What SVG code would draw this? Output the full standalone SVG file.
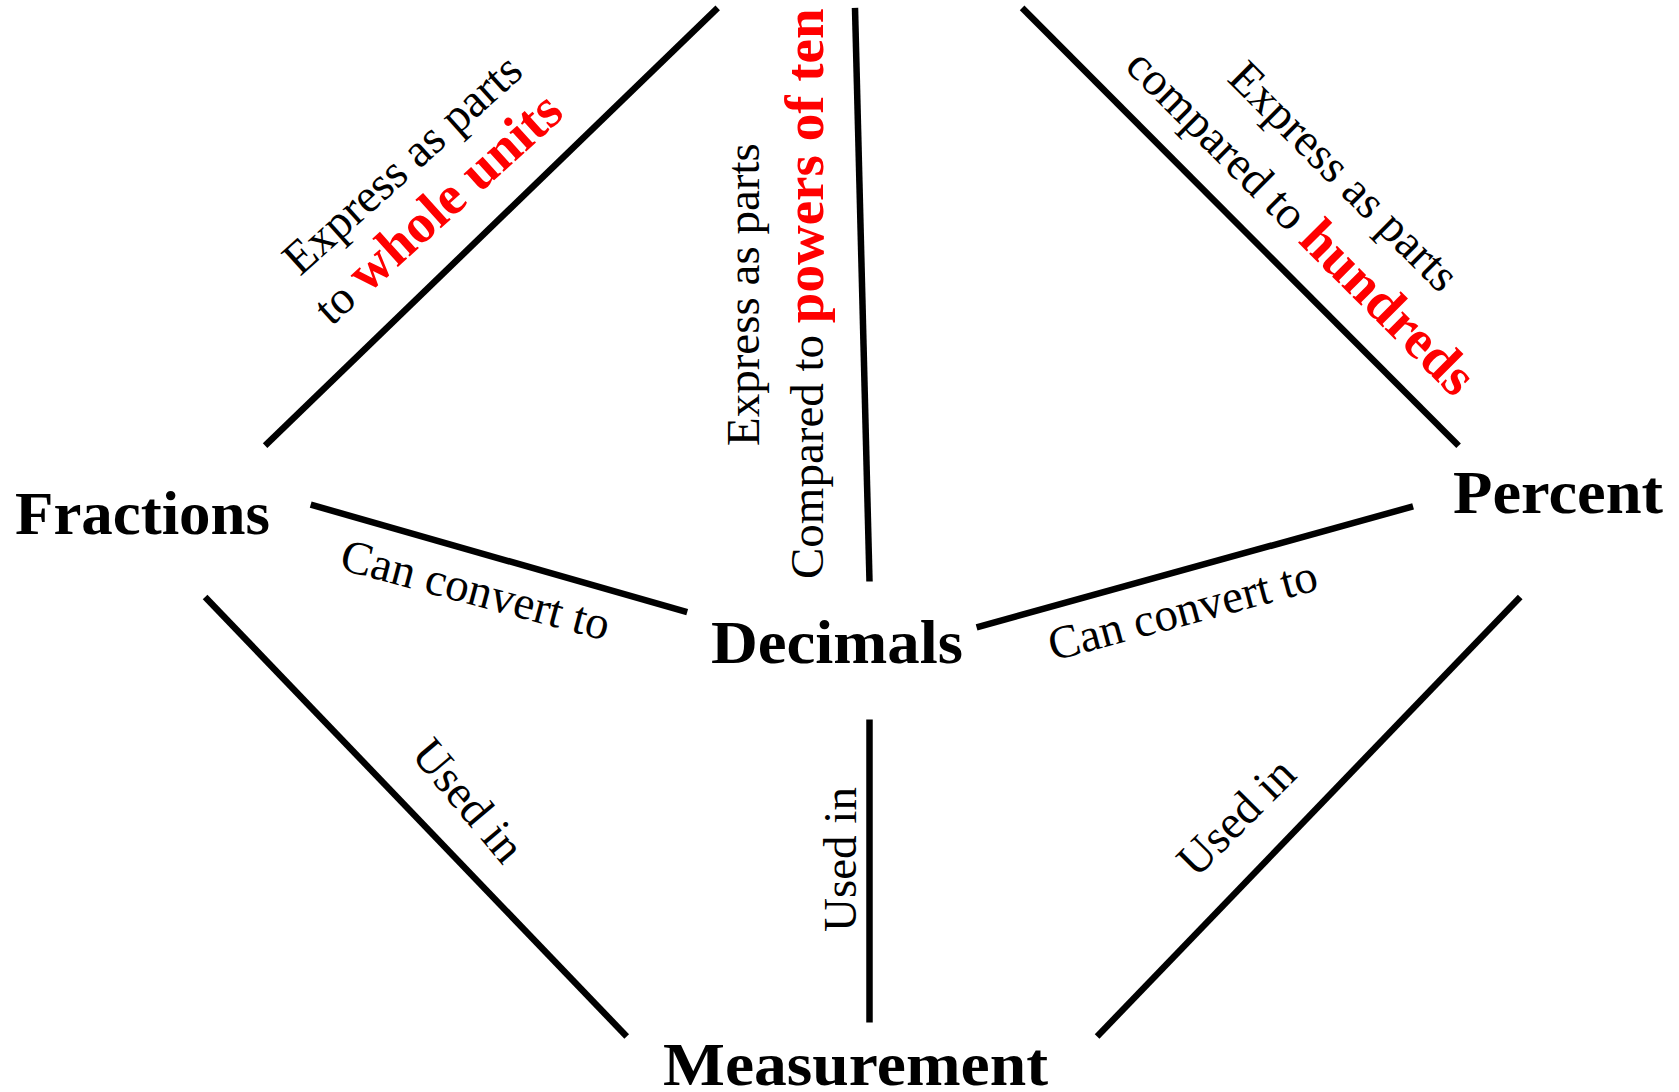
<svg xmlns="http://www.w3.org/2000/svg" width="1679" height="1092" viewBox="0 0 1679 1092">
  <style>
    .node { font-family: "Liberation Serif", "Times New Roman", serif; font-weight: bold; font-size: 62px; fill: #000; }
    .lbl { font-family: "Liberation Serif", "Times New Roman", serif; font-size: 47px; fill: #000; }
    .hl { font-weight: bold; fill: #ff0000; }
    .conn line { stroke: #000; stroke-width: 6.5; stroke-linecap: butt; }
  </style>
  <rect width="1679" height="1092" fill="#fff"/>

  <g id="connectors" class="conn">
    <line x1="265.1" y1="445.7" x2="717.7" y2="7.9"/>
    <line x1="855" y1="7.9" x2="869.5" y2="581.5"/>
    <line x1="1022.1" y1="7.9" x2="1458.6" y2="445.7"/>
    <line x1="310.7" y1="504.6" x2="687.2" y2="612.2"/>
    <line x1="976.6" y1="627.3" x2="1413.1" y2="506.4"/>
    <line x1="869.5" y1="719.6" x2="869.5" y2="1022.4"/>
    <line x1="205.1" y1="597" x2="626.7" y2="1036.5"/>
    <line x1="1520.2" y1="597" x2="1097.1" y2="1036.5"/>
  </g>

  <g id="connector-labels">
    <g id="label-fractions-top" transform="translate(300,277) rotate(-42)">
      <text class="lbl" x="0" y="0">Express as parts</text>
      <text class="lbl" x="-10" y="58">to <tspan class="hl" font-size="55">whole units</tspan></text>
    </g>
    <g id="label-decimals-top" transform="translate(759,446) rotate(-90)">
      <text class="lbl" x="0" y="0">Express as parts</text>
      <text class="lbl" x="-133" y="64">Compared to <tspan class="hl" font-size="55">powers of ten</tspan></text>
    </g>
    <g id="label-percent-top" transform="translate(1226,80) rotate(45)">
      <text class="lbl" x="0" y="0">Express as parts</text>
      <text class="lbl" x="-81" y="64">compared to <tspan class="hl" font-size="55">hundreds</tspan></text>
    </g>
    <text class="lbl" transform="translate(338,569) rotate(15)">Can convert to</text>
    <text class="lbl" transform="translate(1053,661) rotate(-15)">Can convert to</text>
    <text class="lbl" transform="translate(410,755) rotate(50)">Used in</text>
    <text class="lbl" transform="translate(856,932) rotate(-90)">Used in</text>
    <text class="lbl" transform="translate(1196,879) rotate(-45)">Used in</text>
  </g>

  <g id="node-fractions">
    <text class="node" x="15" y="534" textLength="255" lengthAdjust="spacingAndGlyphs">Fractions</text>
  </g>
  <g id="node-decimals">
    <text class="node" x="711" y="663" textLength="252" lengthAdjust="spacingAndGlyphs">Decimals</text>
  </g>
  <g id="node-percent">
    <text class="node" x="1453" y="513" textLength="210" lengthAdjust="spacingAndGlyphs">Percent</text>
  </g>
  <g id="node-measurement">
    <text class="node" x="663" y="1085" textLength="385" lengthAdjust="spacingAndGlyphs">Measurement</text>
  </g>
</svg>
